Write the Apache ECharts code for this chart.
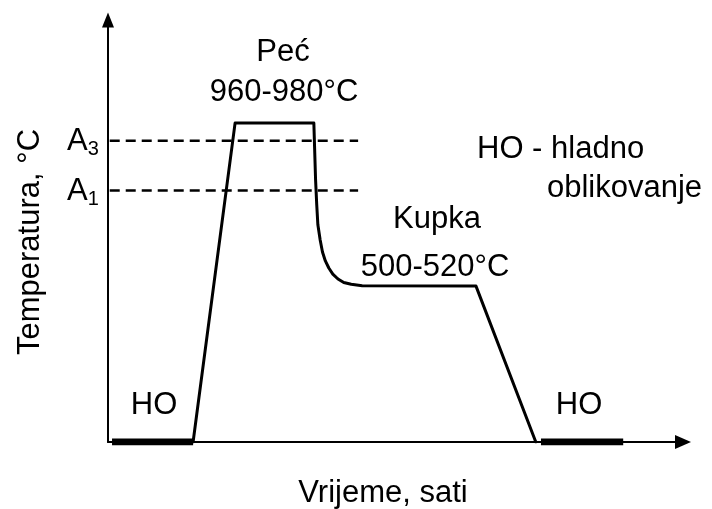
<!DOCTYPE html>
<html>
<head>
<meta charset="utf-8">
<script src="https://cdn.jsdelivr.net/npm/echarts@6/dist/echarts.min.js"></script>
<style>
  html, body { margin: 0; padding: 0; background: #fff; }
  #chart { width: 712px; height: 509px; }
</style>
</head>
<body>
<div id="chart"></div>
<script>
// Schematic time axis (relative units) and temperature in °C
const timeRange = [0, 100];
const tempRange = [70, 1261];

// Heat-treatment route: heating in the furnace, hold, quench into the salt bath, hold, cooling
const routeTime = [14.8, 22.1, 35.8, 36.1, 36.3, 36.5, 36.9, 37.3, 37.8, 38.4, 39.1, 40.0, 41.0, 42.3, 44.2, 64.0, 74.4];
const routeTemp = [70, 970, 970, 810, 740, 683, 640, 606, 581, 561, 544, 530, 520, 515, 511, 510, 70];

// Cold forming (HO) intervals at room temperature
const coldFormingTime = [[0.7, 14.8], [75.3, 89.6]];
const roomTemp = 70;

// Critical transformation temperatures
const criticalNames = ['A3', 'A1'];
const criticalTemps = [920, 780];
const criticalSpan = [0.3, 43.5];

const FONT = '"Liberation Sans", Arial, Helvetica, sans-serif';
const FONT_SIZE = 31;

const chart = echarts.init(document.getElementById('chart'), null, { renderer: 'canvas' });

const routeData = routeTime.map((t, i) => [t, routeTemp[i]]);

const series = [];

criticalTemps.forEach((temp, i) => {
  series.push({
    name: criticalNames[i],
    type: 'line',
    data: criticalSpan.map(t => [t, temp]),
    symbol: 'none',
    silent: true,
    lineStyle: { color: '#000', width: 2.4, type: [10, 6] },
    z: 2
  });
});

series.push({
  name: 'route',
  type: 'line',
  data: routeData,
  symbol: 'none',
  silent: true,
  lineStyle: { color: '#000', width: 3, join: 'round', cap: 'round' },
  z: 3
});

coldFormingTime.forEach((span, i) => {
  series.push({
    name: 'HO' + i,
    type: 'line',
    data: span.map(t => [t, roomTemp]),
    symbol: 'none',
    silent: true,
    lineStyle: { color: '#000', width: 7, cap: 'butt' },
    z: 4
  });
});

function label(text, x, y, align, extra) {
  return Object.assign({
    type: 'text',
    x: x,
    y: y,
    style: {
      text: text,
      fill: '#000',
      font: FONT_SIZE + 'px ' + FONT,
      textAlign: align || 'center',
      textVerticalAlign: 'middle'
    },
    silent: true
  }, extra || {});
}

const subscriptRich = {
  a: { fontSize: FONT_SIZE, fontFamily: FONT, color: '#000' },
  s: { fontSize: 20, fontFamily: FONT, color: '#000', padding: [17, 0, 0, 0] }
};

const option = {
  animation: false,
  backgroundColor: '#fff',
  grid: { left: 108, right: 29, top: 20, bottom: 67 },
  xAxis: {
    type: 'value',
    min: timeRange[0],
    max: timeRange[1],
    axisLine: {
      show: true,
      symbol: ['none', 'triangle'],
      symbolSize: [14, 16],
      lineStyle: { color: '#000', width: 2 }
    },
    axisTick: { show: false },
    axisLabel: { show: false },
    splitLine: { show: false }
  },
  yAxis: {
    type: 'value',
    min: tempRange[0],
    max: tempRange[1],
    axisLine: {
      show: true,
      symbol: ['none', 'triangle'],
      symbolSize: [12, 15],
      lineStyle: { color: '#000', width: 2 }
    },
    axisTick: { show: false },
    axisLabel: { show: false },
    splitLine: { show: false }
  },
  series: series,
  graphic: [
    label('Peć', 283, 52),
    label('960-980°C', 284, 92),
    label('HO - hladno', 477, 149, 'left'),
    label('oblikovanje', 547, 188, 'left'),
    label('Kupka', 437, 219),
    label('500-520°C', 435, 267),
    label('HO', 154, 405),
    label('HO', 579, 405),
    label('Vrijeme, sati', 383, 493),
    {
      type: 'text',
      x: 30,
      y: 242,
      rotation: Math.PI / 2,
      style: {
        text: 'Temperatura, °C',
        fill: '#000',
        font: FONT_SIZE + 'px ' + FONT,
        textAlign: 'center',
        textVerticalAlign: 'middle'
      },
      silent: true
    },
    {
      type: 'text',
      x: 67,
      y: 141,
      style: {
        text: '{a|A}{s|3}',
        rich: subscriptRich,
        textAlign: 'left',
        textVerticalAlign: 'middle'
      },
      silent: true
    },
    {
      type: 'text',
      x: 67,
      y: 191,
      style: {
        text: '{a|A}{s|1}',
        rich: subscriptRich,
        textAlign: 'left',
        textVerticalAlign: 'middle'
      },
      silent: true
    }
  ]
};

chart.setOption(option);
</script>
</body>
</html>
